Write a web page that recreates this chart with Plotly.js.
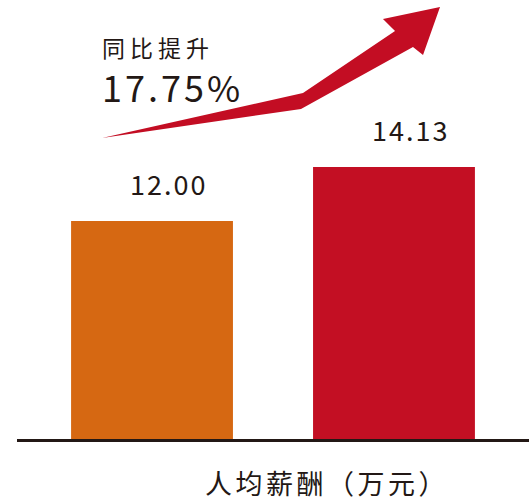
<!DOCTYPE html>
<html>
<head>
<meta charset="utf-8">
<script src="https://cdn.plot.ly/plotly-3.0.1.min.js"></script>
<style>html,body{margin:0;padding:0;background:#fff;}#chart{width:529px;height:502px;}</style>
</head>
<body>
<div id="chart"></div>
<script>
// Data
const categories = ["上年", "本年"];
const values = [12.00, 14.13];
const valueLabels = ["12.00", "14.13"];
const barColors = ["#D66812", "#C30F23"];
const growthTitle = "同比提升";
const growthValue = "17.75%";
const axisTitle = "人均薪酬（万元）";

const W = 529, H = 502;
const M = {l: 17, r: 0, t: 0, b: 63};
const PW = W - M.l - M.r, PH = H - M.t - M.b;
function px(x) { return (x - M.l) / PW; }
function py(y) { return (PH + M.t - y) / PH; }

const FONT = '"Noto Sans CJK SC", "Noto Sans", sans-serif';
const TXT = '#231815';

// arrow outline in pixel coordinates (decoration)
const arrowPts = [[102,138],[303,93],[395,31],[383,19],[440,7],[423,55],[413,47],[301,109]];
const arrowPath = 'M' + arrowPts.map(p => px(p[0]).toFixed(4) + ',' + py(p[1]).toFixed(4)).join(' L') + ' Z';

const trace = {
  type: 'bar',
  x: categories,
  y: values,
  marker: {color: barColors, line: {width: 0}},
  hoverinfo: 'none'
};

// letter spacing per text (px)
const spacing = {};
spacing[growthTitle] = 5;
spacing[growthValue] = 3;
spacing[axisTitle] = 3.5;
valueLabels.forEach(t => spacing[t] = 2);

const annotations = categories.map((c, i) => ({
  x: c, y: values[i], xref: 'x', yref: 'y',
  text: valueLabels[i], showarrow: false,
  xanchor: 'center', yanchor: 'middle',
  xshift: 16 + (i === 1 ? 1 : 0), yshift: 38,
  font: {family: FONT, size: 27, color: TXT}
}));
annotations.push({
  x: px(158), y: py(47.5), xref: 'paper', yref: 'paper',
  text: growthTitle, showarrow: false, xanchor: 'center', yanchor: 'middle',
  font: {family: FONT, size: 23, color: TXT}
});
annotations.push({
  x: px(172.5), y: py(86.5), xref: 'paper', yref: 'paper',
  text: growthValue, showarrow: false, xanchor: 'center', yanchor: 'middle',
  font: {family: FONT, size: 36, color: TXT}
});
annotations.push({
  x: px(327), y: py(482), xref: 'paper', yref: 'paper',
  text: axisTitle, showarrow: false, xanchor: 'center', yanchor: 'middle',
  font: {family: FONT, size: 27, color: TXT}
});

const layout = {
  width: W, height: H,
  margin: M,
  paper_bgcolor: '#fff', plot_bgcolor: '#fff',
  showlegend: false,
  bargap: 0.331,
  xaxis: {
    type: 'category', range: [-0.558, 1.558],
    showticklabels: false, ticks: '', showgrid: false, zeroline: false,
    showline: true, linecolor: TXT, linewidth: 3, fixedrange: true
  },
  yaxis: {
    range: [3.4, 20.72], visible: false, showgrid: false, zeroline: false, fixedrange: true
  },
  shapes: [{
    type: 'path', xref: 'paper', yref: 'paper', path: arrowPath,
    fillcolor: '#C30D23', line: {width: 0}, layer: 'above'
  }],
  annotations: annotations
};

Plotly.newPlot('chart', [trace], layout, {staticPlot: true, displayModeBar: false}).then(() => {
  document.querySelectorAll('#chart .annotation-text').forEach(el => {
    const s = spacing[el.textContent];
    if (s) el.style.letterSpacing = s + 'px';
  });
});
</script>
</body>
</html>
